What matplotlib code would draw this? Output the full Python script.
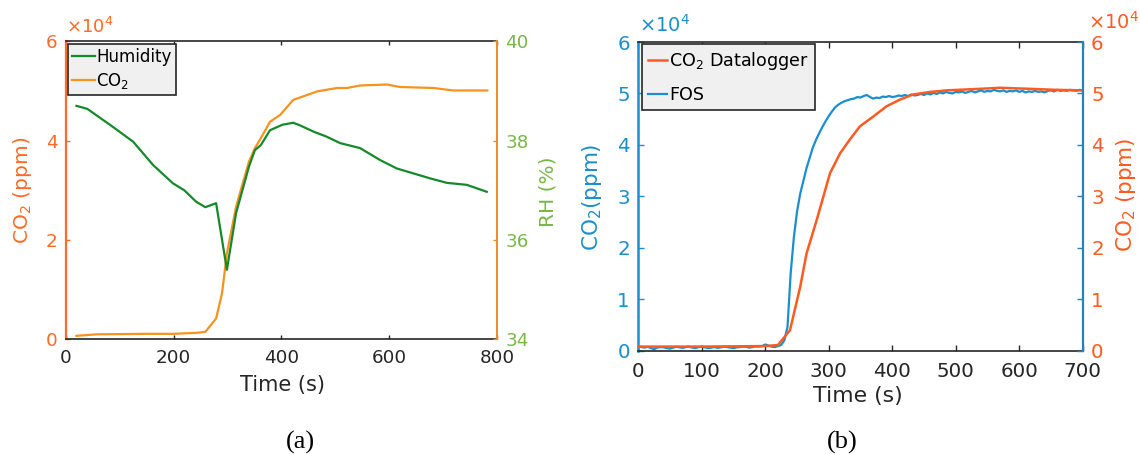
import numpy as np
import matplotlib
matplotlib.use("Agg")
import matplotlib.pyplot as plt
from matplotlib.ticker import FuncFormatter

plt.rcParams['font.family'] = ['DejaVu Sans']
plt.rcParams['mathtext.default'] = 'regular'

# ---------------- Data: panel (a) ----------------
co2_a_time = [20, 57, 150, 200, 242, 259, 279, 290, 299, 316, 340, 351, 362, 379,
              398, 422, 466, 503, 522, 546, 596, 620, 682, 719, 782]
co2_a_ppm = [700, 1000, 1100, 1100, 1300, 1500, 4200, 9300, 17300, 26700, 35800,
             38500, 40500, 43800, 45200, 48200, 49900, 50600, 50600, 51100, 51300,
             50800, 50600, 50100, 50100]

hum_time = [20, 40, 82, 125, 162, 199, 220, 242, 259, 279, 299, 316, 340, 351, 362,
            379, 402, 422, 434, 460, 484, 509, 546, 583, 614, 645, 676, 707, 744, 781]
hum_rh = [38.70, 38.64, 38.32, 37.98, 37.51, 37.14, 37.00, 36.77, 36.66, 36.74, 35.40,
          36.54, 37.48, 37.81, 37.91, 38.21, 38.32, 38.36, 38.31, 38.18, 38.08, 37.95,
          37.85, 37.61, 37.44, 37.34, 37.24, 37.15, 37.11, 36.97]

# ---------------- Data: panel (b) ----------------
logger_time = [0, 100, 200, 220, 239, 255, 265, 281, 302, 318, 333, 349, 370, 391,
               412, 433, 460, 486, 538, 570, 616, 658, 700]
logger_ppm = [800, 800, 900, 1100, 4000, 12400, 18900, 25400, 34500, 38400, 41000,
              43600, 45500, 47500, 48800, 49800, 50300, 50600, 50900, 51100, 50900,
              50700, 50600]

fos_ppm = [
    # 0 - 215 s
    800, 700, 600, 750, 500, 300, 600, 700, 650, 500,
    400, 600, 750, 650, 550, 700, 800, 600, 500, 700,
    750, 650, 500, 600, 700, 550, 650, 800, 700, 600,
    500, 650, 700, 800, 750, 600, 700, 850, 800, 900,
    1200, 1000, 800, 700,
    # 220 - 400 s
    900, 1100, 2000, 4600, 15000, 22000, 27000, 30500, 33000, 35500,
    37500, 39500, 41000, 42300, 43500, 44600, 45600, 46500, 47300, 47800,
    48200, 48500, 48700, 48900, 49000, 49300, 49200, 49500, 49700, 49300,
    49000, 49200, 49100, 49400, 49300, 49500, 49300,
    # 405 - 700 s
    49400, 49600, 49500, 49700, 49500, 49800, 49600, 49700, 49900, 49700,
    50000, 49800, 50100, 49900, 50200, 50000, 50300, 50100, 50000, 50300,
    50200, 50400, 50100, 50300, 50500, 50200, 50400, 50600, 50300, 50500,
    50400, 50700, 50500, 50400, 50600, 50300, 50500, 50400, 50600, 50300,
    50500, 50200, 50400, 50300, 50500, 50300, 50400, 50200, 50500, 50600,
    50400, 50700, 50500, 50600, 50500, 50700, 50600, 50500, 50700, 50600,
]
fos_time = np.arange(len(fos_ppm)) * 5

x_ticks_a = [0, 200, 400, 600, 800]
x_ticks_b = [0, 100, 200, 300, 400, 500, 600, 700]
co2_ticks_a = [0, 20000, 40000, 60000]
rh_ticks = [34, 36, 38, 40]
co2_ticks_b = [0, 10000, 20000, 30000, 40000, 50000, 60000]

# ---------------- Colours ----------------
ORANGE_RED = '#ff6a24'
CO2_ORANGE = '#f7921e'
RH_SPINE = '#f08a24'
GREEN_LINE = '#148a2a'
GREEN_TXT = '#78b845'
BLUE = '#1a8fce'
BLUE_DARK = '#2c80b4'
LOGGER = '#ff5a1f'
DARK = '#262626'

W, H = 1140, 454
fig = plt.figure(figsize=(W / 100, H / 100), dpi=100)

sci = FuncFormatter(lambda v, p: f'{v / 1e4:g}')

# ================= Panel (a) =================
axa = fig.add_axes([65.7 / W, 1 - 339.3 / H, 431.3 / W, 298 / H])
axar = axa.twinx()

h_co2, = axa.plot(co2_a_time, co2_a_ppm, color=CO2_ORANGE, lw=1.6)
h_hum, = axar.plot(hum_time, hum_rh, color=GREEN_LINE, lw=1.6)

axa.set_xlim(0, 800)
axa.set_ylim(0, 60000)
axar.set_ylim(34, 40)
axa.set_xticks(x_ticks_a)
axa.set_yticks(co2_ticks_a)
axa.yaxis.set_major_formatter(sci)
axar.set_yticks(rh_ticks)

for s in ['top', 'bottom']:
    axa.spines[s].set_color(DARK)
    axa.spines[s].set_linewidth(1.2)
axa.spines['left'].set_color(ORANGE_RED)
axa.spines['left'].set_linewidth(1.6)
axa.spines['right'].set_visible(False)
for s in ['top', 'bottom', 'left']:
    axar.spines[s].set_visible(False)
axar.spines['right'].set_color(RH_SPINE)
axar.spines['right'].set_linewidth(1.4)

axa.tick_params(axis='x', direction='in', top=True, length=3, width=1,
                color=DARK, labelcolor=DARK, labelsize=13.2, pad=7)
axa.tick_params(axis='y', direction='in', length=3, width=1,
                color=ORANGE_RED, labelcolor=ORANGE_RED, labelsize=13.2, pad=6)
axar.tick_params(axis='y', direction='in', length=3, width=1,
                 color=RH_SPINE, labelcolor=GREEN_TXT, labelsize=13.2, pad=6)

fig.text(66 / W, 1 - 27 / H, r'$\times10^4$', color=ORANGE_RED, fontsize=13,
         ha='left', va='center')
fig.text(22 / W, 1 - 190 / H, 'CO$_2$ (ppm)', color=ORANGE_RED, fontsize=14.5,
         rotation=90, ha='center', va='center')
fig.text(548 / W, 1 - 192 / H, 'RH (%)', color=GREEN_TXT, fontsize=14.5,
         rotation=90, ha='center', va='center')
fig.text(283 / W, 1 - 385 / H, 'Time (s)', color=DARK, fontsize=15,
         ha='center', va='center')

leg_a = axar.legend([h_hum, h_co2], ['Humidity', 'CO$_2$'], loc='upper left',
                    bbox_to_anchor=(0.005, 0.991), borderaxespad=0, fontsize=12,
                    frameon=True, fancybox=False, framealpha=1,
                    facecolor='#f0f0f0', edgecolor=DARK, handlelength=1.35,
                    handletextpad=0.1, borderpad=0.25, labelspacing=0.3)
leg_a.get_frame().set_linewidth(1.2)

fig.text(300 / W, 1 - 442 / H, '(a)', family='Liberation Serif', fontsize=19,
         ha='center', va='center', color='black')

# ================= Panel (b) =================
axb = fig.add_axes([638.3 / W, 1 - 350.7 / H, 444.4 / W, 308.7 / H])
axbr = axb.twinx()

h_fos, = axb.plot(fos_time, fos_ppm, color=BLUE, lw=1.6)
h_log, = axbr.plot(logger_time, logger_ppm, color=LOGGER, lw=1.8)

axb.set_xlim(0, 700)
axb.set_ylim(0, 60000)
axbr.set_ylim(0, 60000)
axb.set_xticks(x_ticks_b)
axb.set_yticks(co2_ticks_b)
axbr.set_yticks(co2_ticks_b)
axb.yaxis.set_major_formatter(sci)
axbr.yaxis.set_major_formatter(sci)

for s in ['top', 'bottom']:
    axb.spines[s].set_color(DARK)
    axb.spines[s].set_linewidth(1.2)
axb.spines['left'].set_color(BLUE)
axb.spines['left'].set_linewidth(1.8)
axb.spines['right'].set_visible(False)
for s in ['top', 'bottom', 'left']:
    axbr.spines[s].set_visible(False)
axbr.spines['right'].set_color(BLUE_DARK)
axbr.spines['right'].set_linewidth(1.6)

axb.tick_params(axis='x', direction='in', top=True, length=4.5, width=1,
                color=DARK, labelcolor=DARK, labelsize=14.3, pad=8)
axb.tick_params(axis='y', direction='in', length=4.5, width=1,
                color=BLUE, labelcolor=BLUE, labelsize=14.3, pad=6)
axbr.tick_params(axis='y', direction='in', length=4.5, width=1,
                 color=BLUE_DARK, labelcolor=LOGGER, labelsize=14.3, pad=6)

fig.text(639 / W, 1 - 25 / H, r'$\times10^4$', color=BLUE, fontsize=14,
         ha='left', va='center')
fig.text(1088 / W, 1 - 22 / H, r'$\times10^4$', color=LOGGER, fontsize=14,
         ha='left', va='center')
fig.text(592 / W, 1 - 197 / H, 'CO$_2$(ppm)', color=BLUE, fontsize=15.5,
         rotation=90, ha='center', va='center')
fig.text(1126 / W, 1 - 195 / H, 'CO$_2$ (ppm)', color=LOGGER, fontsize=15.5,
         rotation=90, ha='center', va='center')
fig.text(858 / W, 1 - 396 / H, 'Time (s)', color=DARK, fontsize=15.8,
         ha='center', va='center')

leg_b = axbr.legend([h_log, h_fos], ['CO$_2$ Datalogger', 'FOS'], loc='upper left',
                    bbox_to_anchor=(0.008, 0.9935), borderaxespad=0, fontsize=12.6,
                    frameon=True, fancybox=False, framealpha=1,
                    facecolor='#f0f0f0', edgecolor=DARK, handlelength=1.1,
                    handletextpad=0.1, borderpad=0.35, labelspacing=0.8)
leg_b.get_frame().set_linewidth(1.2)

fig.text(842 / W, 1 - 442 / H, '(b)', family='Liberation Serif', fontsize=19,
         ha='center', va='center', color='black')

fig.savefig('out.png', dpi=100)
